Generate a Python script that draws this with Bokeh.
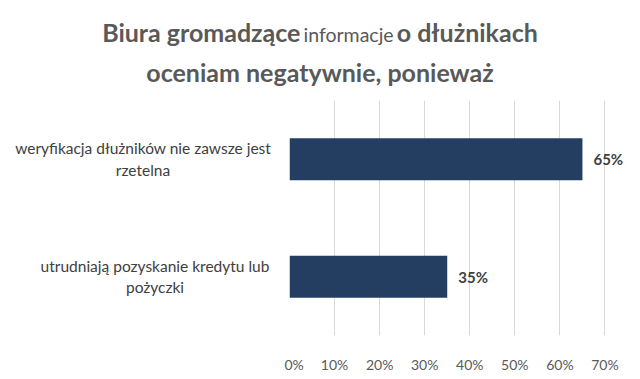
from bokeh.plotting import figure
from bokeh.models import Range1d, FixedTicker, NumeralTickFormatter, Label, ColumnDataSource, Div
from bokeh.layouts import column, row
from bokeh.embed import file_html
from bokeh.resources import INLINE

# data
categories = ["weryfikacja dłużników nie zawsze jest\nrzetelna",
              "utrudniają pozyskanie kredytu lub\npożyczki"]
values = [0.65, 0.35]
positions = [1.5, 0.5]
value_labels = ["65%", "35%"]
x_ticks = [0, 0.1, 0.2, 0.3, 0.4, 0.5, 0.6, 0.7]
title_line1 = ["Biura gromadzące", "informacje", "o dłużnikach"]
title_line2 = "oceniam negatywnie, ponieważ"

FONT = "Lato"
TEXT = "#595959"
DARK = "#404040"
BAR = "#243E61"

# --- title ---
title_html = (
    f'<div style="width:640px;height:100px;margin:0;padding-top:15px;box-sizing:border-box;'
    f'text-align:center;font-family:{FONT};color:{TEXT};line-height:34px;white-space:nowrap;">'
    f'<div><span style="font-weight:bold;font-size:25px;">{title_line1[0]}</span> '
    f'<span style="font-size:19.5px;">{title_line1[1]}</span> '
    f'<span style="font-weight:bold;font-size:25px;">{title_line1[2]}</span></div>'
    f'<div style="font-weight:bold;font-size:25px;">{title_line2}</div></div>'
)
title_div = Div(text=title_html, width=640, height=100, margin=0)

# --- category labels ---
boxes = [(0, 286, 37, 22), (24, 262, 156, 21)]
parts = []
for cat, (left, w, top, lh) in zip(categories, boxes):
    lines = "<br>".join(cat.split("\n"))
    parts.append(
        f'<div style="position:absolute;left:{left}px;top:{top}px;width:{w}px;text-align:center;'
        f'font-family:{FONT};font-size:15.5px;color:{DARK};line-height:{lh}px;white-space:nowrap;">{lines}</div>'
    )
labels_div = Div(text=f'<div style="position:relative;width:284px;height:279px;">{"".join(parts)}</div>',
                 width=284, height=279, margin=0)

# --- plot ---
p = figure(width=356, height=279, output_backend="svg", toolbar_location=None,
           x_range=Range1d(0, 0.75), y_range=Range1d(0, 2),
           min_border_left=5, min_border_right=13, min_border_top=0, min_border_bottom=44, margin=0)
p.outline_line_color = None
p.border_fill_color = "white"

src = ColumnDataSource(dict(y=positions, right=values, lab=value_labels))
p.hbar(y="y", right="right", left=0, height=0.357, source=src, fill_color=BAR, line_color=None)

p.yaxis.visible = False
p.ygrid.visible = False
p.xaxis.ticker = FixedTicker(ticks=x_ticks)
p.xaxis.formatter = NumeralTickFormatter(format="0%")
p.xaxis.axis_line_color = None
p.xaxis.major_tick_line_color = None
p.xaxis.minor_tick_line_color = None
p.xaxis.major_label_standoff = 14
p.xaxis.major_label_text_font = FONT
p.xaxis.major_label_text_font_size = "14px"
p.xaxis.major_label_text_color = TEXT
p.xgrid.ticker = FixedTicker(ticks=x_ticks)
p.xgrid.grid_line_color = "#d9d9d9"

for v, y, lab in zip(values, positions, value_labels):
    p.add_layout(Label(x=v, y=y, text=lab, x_offset=11, text_baseline="middle", text_align="left",
                       text_font=FONT, text_font_size="15px", text_font_style="bold", text_color=DARK))

layout = column(title_div, row(labels_div, p, spacing=0, margin=0), spacing=0, margin=0)
open("out.html", "w").write(file_html(layout, INLINE))
